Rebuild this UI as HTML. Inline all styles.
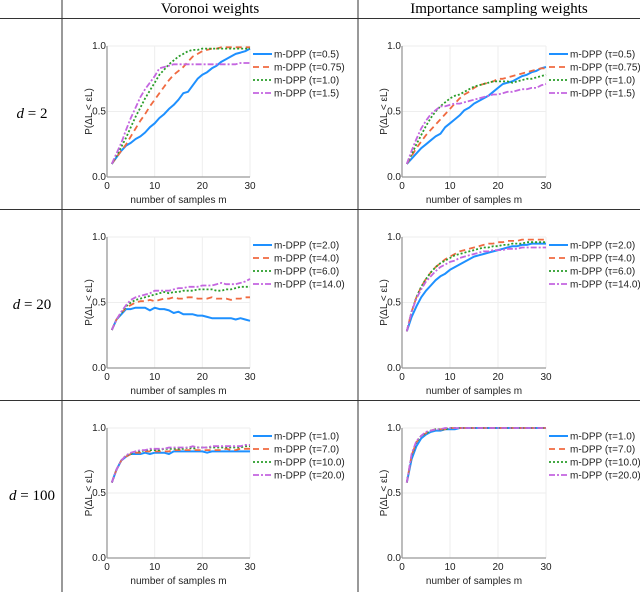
<!DOCTYPE html>
<html><head><meta charset="utf-8">
<style>
body{margin:0;background:#fff;}
svg{display:block;font-family:"Liberation Sans",sans-serif;}
.hdr{font-family:"Liberation Serif",serif;font-size:15px;}
.tick{font-size:10px;fill:#222;}
.lbl{font-size:10px;fill:#222;}
.leg{font-size:10px;fill:#222;}
</style></head>
<body>
<svg id="fig" width="640" height="592" viewBox="0 0 640 592">
<line x1="62" y1="0" x2="62" y2="592" stroke="#333" stroke-width="1"/>
<line x1="358" y1="0" x2="358" y2="592" stroke="#333" stroke-width="1"/>
<line x1="0" y1="18.5" x2="640" y2="18.5" stroke="#333" stroke-width="1"/>
<line x1="0" y1="209.5" x2="640" y2="209.5" stroke="#333" stroke-width="1"/>
<line x1="0" y1="400.5" x2="640" y2="400.5" stroke="#333" stroke-width="1"/>
<text class="hdr" x="210" y="13" text-anchor="middle">Voronoi weights</text>
<text class="hdr" x="499" y="13" text-anchor="middle">Importance sampling weights</text>
<text class="hdr" x="32" y="118" text-anchor="middle"><tspan font-style="italic">d</tspan> = 2</text>
<text class="hdr" x="32" y="309" text-anchor="middle"><tspan font-style="italic">d</tspan> = 20</text>
<text class="hdr" x="32" y="500" text-anchor="middle"><tspan font-style="italic">d</tspan> = 100</text>
<g id="plots"></g>
</svg>
<script>
const xTicks=[0,10,20,30];
const yTicks=[0.0,0.5,1.0];
const yTickLabels=["0.0","0.5","1.0"];
const m=[1,2,3,4,5,6,7,8,9,10,11,12,13,14,15,16,17,18,19,20,21,22,23,24,25,26,27,28,29,30];

const legendP1=["m-DPP (τ=0.5)","m-DPP (τ=0.75)","m-DPP (τ=1.0)","m-DPP (τ=1.5)"];
const legendP3=["m-DPP (τ=2.0)","m-DPP (τ=4.0)","m-DPP (τ=6.0)","m-DPP (τ=14.0)"];
const legendP5=["m-DPP (τ=1.0)","m-DPP (τ=7.0)","m-DPP (τ=10.0)","m-DPP (τ=20.0)"];

const p1Blue=[0.1,0.15,0.2,0.24,0.26,0.29,0.31,0.34,0.38,0.41,0.45,0.48,0.52,0.55,0.59,0.64,0.65,0.70,0.75,0.78,0.80,0.83,0.85,0.88,0.90,0.92,0.94,0.95,0.96,0.98];
const p1Orange=[0.1,0.15,0.2,0.25,0.31,0.37,0.43,0.48,0.54,0.59,0.64,0.69,0.74,0.78,0.81,0.84,0.88,0.92,0.94,0.96,0.97,0.98,0.98,0.99,0.99,0.99,0.99,0.99,0.99,0.99];
const p1Green=[0.1,0.16,0.23,0.30,0.38,0.46,0.53,0.60,0.66,0.72,0.78,0.82,0.86,0.89,0.92,0.94,0.96,0.97,0.97,0.98,0.98,0.98,0.98,0.98,0.98,0.98,0.98,0.98,0.98,0.98];
const p1Purple=[0.1,0.18,0.26,0.36,0.45,0.53,0.61,0.67,0.72,0.77,0.83,0.84,0.85,0.86,0.86,0.86,0.86,0.86,0.86,0.86,0.86,0.86,0.86,0.86,0.86,0.86,0.86,0.87,0.87,0.87];

const p2Blue=[0.1,0.14,0.18,0.22,0.25,0.28,0.31,0.33,0.38,0.41,0.44,0.47,0.51,0.53,0.56,0.58,0.60,0.62,0.65,0.68,0.71,0.72,0.73,0.75,0.77,0.78,0.80,0.81,0.83,0.84];
const p2Orange=[0.1,0.16,0.22,0.27,0.32,0.36,0.40,0.44,0.48,0.52,0.56,0.60,0.63,0.65,0.68,0.70,0.71,0.72,0.73,0.75,0.75,0.76,0.77,0.78,0.79,0.80,0.81,0.82,0.83,0.83];
const p2Green=[0.1,0.17,0.25,0.32,0.39,0.45,0.50,0.54,0.57,0.60,0.62,0.63,0.65,0.67,0.69,0.70,0.71,0.72,0.73,0.73,0.73,0.73,0.72,0.73,0.74,0.75,0.75,0.76,0.77,0.78];
const p2Purple=[0.1,0.2,0.29,0.37,0.43,0.48,0.51,0.54,0.54,0.55,0.56,0.56,0.57,0.58,0.59,0.60,0.61,0.62,0.63,0.63,0.64,0.65,0.65,0.66,0.67,0.67,0.68,0.68,0.70,0.71];

const p3Blue=[0.29,0.37,0.41,0.45,0.45,0.46,0.46,0.46,0.44,0.46,0.45,0.45,0.44,0.42,0.43,0.41,0.41,0.41,0.40,0.40,0.39,0.38,0.38,0.38,0.38,0.38,0.37,0.38,0.37,0.36];
const p3Orange=[0.29,0.37,0.42,0.46,0.48,0.50,0.51,0.51,0.52,0.51,0.52,0.53,0.53,0.54,0.53,0.53,0.54,0.54,0.53,0.53,0.53,0.54,0.53,0.53,0.53,0.52,0.53,0.53,0.54,0.54];
const p3Green=[0.29,0.37,0.42,0.47,0.50,0.52,0.53,0.54,0.55,0.56,0.57,0.58,0.57,0.58,0.58,0.59,0.59,0.59,0.60,0.60,0.60,0.60,0.59,0.59,0.60,0.60,0.61,0.62,0.62,0.62];
const p3Purple=[0.29,0.37,0.43,0.48,0.52,0.54,0.55,0.56,0.57,0.59,0.59,0.59,0.59,0.60,0.61,0.61,0.62,0.62,0.62,0.63,0.63,0.63,0.64,0.65,0.64,0.64,0.64,0.65,0.66,0.68];

const p4Blue=[0.28,0.39,0.47,0.54,0.59,0.63,0.67,0.70,0.72,0.75,0.77,0.79,0.81,0.83,0.85,0.86,0.87,0.88,0.89,0.90,0.91,0.92,0.93,0.93,0.94,0.94,0.95,0.95,0.95,0.95];
const p4Orange=[0.28,0.43,0.54,0.62,0.68,0.73,0.77,0.80,0.83,0.85,0.87,0.89,0.90,0.91,0.92,0.93,0.94,0.95,0.95,0.96,0.96,0.97,0.97,0.97,0.98,0.98,0.98,0.98,0.98,0.98];
const p4Green=[0.28,0.43,0.54,0.62,0.68,0.73,0.77,0.80,0.82,0.84,0.86,0.87,0.88,0.89,0.90,0.91,0.92,0.92,0.93,0.93,0.94,0.94,0.95,0.95,0.95,0.96,0.96,0.96,0.96,0.96];
const p4Purple=[0.28,0.43,0.53,0.60,0.66,0.70,0.74,0.77,0.79,0.81,0.82,0.84,0.85,0.86,0.87,0.88,0.89,0.89,0.90,0.90,0.90,0.91,0.91,0.91,0.92,0.92,0.92,0.92,0.92,0.92];

const p5Blue=[0.58,0.68,0.75,0.78,0.80,0.80,0.80,0.81,0.80,0.81,0.81,0.81,0.80,0.82,0.82,0.82,0.82,0.82,0.82,0.82,0.81,0.82,0.82,0.82,0.82,0.82,0.82,0.82,0.82,0.82];
const p5Orange=[0.58,0.68,0.75,0.78,0.80,0.81,0.81,0.82,0.82,0.82,0.82,0.82,0.82,0.83,0.83,0.83,0.83,0.83,0.83,0.83,0.83,0.83,0.83,0.83,0.84,0.83,0.83,0.84,0.84,0.84];
const p5Green=[0.58,0.68,0.75,0.79,0.80,0.82,0.82,0.83,0.83,0.83,0.83,0.84,0.84,0.84,0.84,0.84,0.85,0.84,0.85,0.85,0.85,0.85,0.85,0.85,0.85,0.85,0.85,0.85,0.86,0.86];
const p5Purple=[0.58,0.68,0.75,0.79,0.81,0.82,0.83,0.83,0.84,0.84,0.84,0.84,0.85,0.85,0.85,0.85,0.85,0.86,0.85,0.85,0.85,0.86,0.86,0.86,0.86,0.86,0.86,0.86,0.87,0.87];

const p6Blue=[0.58,0.76,0.86,0.92,0.95,0.97,0.98,0.98,0.99,0.99,0.99,1.0,1.0,1.0,1.0,1.0,1.0,1.0,1.0,1.0,1.0,1.0,1.0,1.0,1.0,1.0,1.0,1.0,1.0,1.0];
const p6Orange=[0.58,0.79,0.89,0.94,0.96,0.98,0.99,0.99,0.99,1.0,1.0,1.0,1.0,1.0,1.0,1.0,1.0,1.0,1.0,1.0,1.0,1.0,1.0,1.0,1.0,1.0,1.0,1.0,1.0,1.0];
const p6Green=[0.58,0.79,0.89,0.94,0.96,0.98,0.99,0.99,0.99,1.0,1.0,1.0,1.0,1.0,1.0,1.0,1.0,1.0,1.0,1.0,1.0,1.0,1.0,1.0,1.0,1.0,1.0,1.0,1.0,1.0];
const p6Purple=[0.58,0.80,0.90,0.94,0.97,0.98,0.99,0.99,1.0,1.0,1.0,1.0,1.0,1.0,1.0,1.0,1.0,1.0,1.0,1.0,1.0,1.0,1.0,1.0,1.0,1.0,1.0,1.0,1.0,1.0];

const NS="http://www.w3.org/2000/svg";
const styles=[
 {c:"#1e90ff",d:"",w:2},
 {c:"#f06a40",d:"6,4",w:1.8},
 {c:"#2a9d2a",d:"2,2",w:1.8},
 {c:"#c466e0",d:"6,2,2,2",w:1.8}
];
const seriesNames=["tau-1","tau-2","tau-3","tau-4"];
function el(tag,attrs,parent){const e=document.createElementNS(NS,tag);for(const k in attrs)e.setAttribute(k,attrs[k]);parent.appendChild(e);return e;}

function panel(id,x0,x1,yTop,yBot,series,legend){
  const root=document.getElementById("plots");
  const g=el("g",{},root);
  
  
  const sx=v=>x0+(v-0)/(30-0)*(x1-x0);
  const sy=v=>yBot-(v-0)/(1-0)*(yBot-yTop);
  xTicks.forEach(t=>{if(t>0){const l=el("line",{x1:sx(t),x2:sx(t),y1:yTop,y2:yBot,stroke:"#eee","stroke-width":1},g);
    
    }});
  yTicks.forEach(t=>{if(t>0){const l=el("line",{x1:x0,x2:x1,y1:sy(t),y2:sy(t),stroke:"#eee","stroke-width":1},g);
    
    }});
  const ax=el("line",{x1:x0,x2:x0,y1:yTop,y2:yBot,stroke:"#999","stroke-width":1.3},g);
  
  
  const bx=el("line",{x1:x0,x2:x1,y1:yBot,y2:yBot,stroke:"#999","stroke-width":1.3},g);
  
  
  xTicks.forEach(t=>{const tx=el("text",{x:sx(t),y:yBot+12,"text-anchor":"middle",class:"tick"},g);tx.textContent=String(t);
    
    });
  yTicks.forEach((t,i)=>{const tx=el("text",{x:x0-1,y:sy(t)+3,"text-anchor":"end",class:"tick"},g);tx.textContent=yTickLabels[i];
    
    });
  const xl=el("text",{x:(x0+x1)/2,y:yBot+26,"text-anchor":"middle",class:"lbl"},g);xl.textContent="number of samples m";
  
  
  const ym=(yTop+yBot)/2, yx=x0-15;
  const yl=el("text",{x:yx,y:ym,"text-anchor":"middle",class:"lbl",transform:`rotate(-90 ${yx} ${ym})`},g);yl.textContent="P(ΔL < εL)";
  
  
  series.forEach((s,i)=>{
    const pts=s.map((v,j)=>sx(m[j]).toFixed(1)+","+sy(v).toFixed(1)).join(" ");
    const st=styles[i];
    const pl=el("polyline",{points:pts,fill:"none",stroke:st.c,"stroke-width":st.w,"stroke-dasharray":st.d,"stroke-linejoin":"round"},g);
    
    
  });
  legend.forEach((t,i)=>{
    const ly=yTop+8+i*13, st=styles[i];
    const ll=el("line",{x1:x1+3,x2:x1+22,y1:ly,y2:ly,stroke:st.c,"stroke-width":st.w,"stroke-dasharray":st.d},g);
    
    
    const lt=el("text",{x:x1+24,y:ly+3.5,class:"leg"},g);lt.textContent=t;
    
    
  });
}
panel("plot-voronoi-d2",107,250,46,177,[p1Blue,p1Orange,p1Green,p1Purple],legendP1);
panel("plot-importance-d2",402,546,46,177,[p2Blue,p2Orange,p2Green,p2Purple],legendP1);
panel("plot-voronoi-d20",107,250,237,368,[p3Blue,p3Orange,p3Green,p3Purple],legendP3);
panel("plot-importance-d20",402,546,237,368,[p4Blue,p4Orange,p4Green,p4Purple],legendP3);
panel("plot-voronoi-d100",107,250,428,558,[p5Blue,p5Orange,p5Green,p5Purple],legendP5);
panel("plot-importance-d100",402,546,428,558,[p6Blue,p6Orange,p6Green,p6Purple],legendP5);
</script>
</body></html>
